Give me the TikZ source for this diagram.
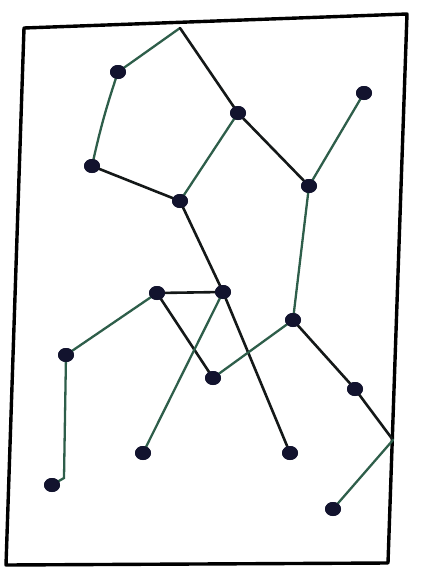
\documentclass[tikz,border=0pt]{standalone}
\usetikzlibrary{shapes.geometric}
\begin{document}
\begin{tikzpicture}[x=1pt,y=-1pt,
  dot/.style={ellipse,fill=dotc,inner sep=0pt,minimum width=16pt,minimum height=14pt},
  dk/.style={draw=edk,line width=2.6pt,line cap=round},
  gr/.style={draw=egr,line width=2.3pt,line cap=round}]
\definecolor{dotc}{HTML}{12132E}
\definecolor{edk}{HTML}{141818}
\definecolor{egr}{HTML}{2E5E4A}
\useasboundingbox (0,0) rectangle (421,574);
% border
\draw[line width=3.4pt,black,line join=round] (24,28) -- (407,14) -- (388,563) -- (6,565) -- cycle;
\coordinate (T) at (180,28);
\coordinate (R) at (393,440);
\coordinate (Oc) at (64,478);
\node[dot] (A) at (118,72) {};
\node[dot] (B) at (238,113) {};
\node[dot] (C) at (364,93) {};
\node[dot] (D) at (92,166) {};
\node[dot] (E) at (180,201) {};
\node[dot] (F) at (309,186) {};
\node[dot] (G) at (157,293) {};
\node[dot] (H) at (223,292) {};
\node[dot] (I) at (293,320) {};
\node[dot] (J) at (66,355) {};
\node[dot] (K) at (213,378) {};
\node[dot] (L) at (355,389) {};
\node[dot] (M) at (143,453) {};
\node[dot] (N) at (290,453) {};
\node[dot] (O) at (52,485) {};
\node[dot] (P) at (333,509) {};
\path[gr] (T) -- (A.center);
\path[dk] (T) -- (B.center);
\path[gr] (A.center) to[bend right=3] (D.center);
\path[dk] (D.center) -- (E.center);
\path[gr] (B.center) -- (E.center);
\path[dk] (B.center) -- (F.center);
\path[gr] (C.center) -- (F.center);
\path[dk] (E.center) -- (H.center);
\path[gr] (F.center) -- (I.center);
\path[dk] (G.center) -- (H.center);
\path[gr] (G.center) -- (J.center);
\path[gr] (J.center) -- (Oc) -- (O.center);
\path[dk] (G.center) -- (K.center);
\path[gr] (H.center) -- (M.center);
\path[dk] (H.center) -- (N.center);
\path[gr] (I.center) -- (K.center);
\path[dk] (I.center) -- (L.center);
\path[dk] (L.center) -- (R);
\path[gr] (R) -- (P.center);
\foreach \n in {A,B,C,D,E,F,G,H,I,J,K,L,M,N,O,P} {\node[dot] at (\n) {};}
\end{tikzpicture}
\end{document}
